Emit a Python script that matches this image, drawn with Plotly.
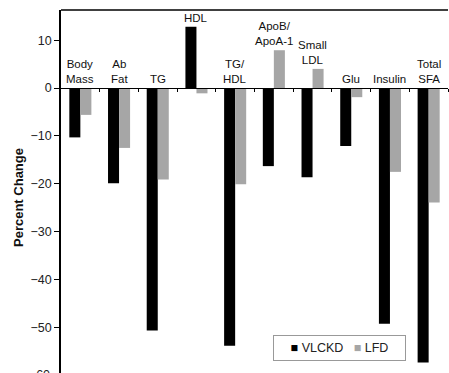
import plotly.graph_objects as go

categories = ["Body<br>Mass", "Ab<br>Fat", "TG", "HDL", "TG/<br>HDL", "ApoB/<br>ApoA-1",
              "Small<br>LDL", "Glu", "Insulin", "Total<br>SFA"]
vlckd = [-10.3, -19.9, -50.6, 12.8, -53.8, -16.3, -18.6, -12.1, -49.2, -57.3]
lfd = [-5.6, -12.5, -19.1, -1.1, -20.1, 7.9, 4.0, -1.9, -17.5, -23.9]
series_names = ["VLCKD", "LFD"]
yticks = [-50, -40, -30, -20, -10, 0, 10]

FONT = "Liberation Sans, Arial, Helvetica, sans-serif"
BLACK = "#000000"
GREY = "#a6a6a6"
YMIN, YMAX = -59.5, 16.3

xs = list(range(len(categories)))
fig = go.Figure()
fig.add_trace(go.Bar(x=xs, y=vlckd, name=series_names[0],
                     marker=dict(color=BLACK, line=dict(width=0)), showlegend=False))
fig.add_trace(go.Bar(x=xs, y=lfd, name=series_names[1],
                     marker=dict(color=GREY, line=dict(width=0)), showlegend=False))

annotations = []
for i, c in enumerate(categories):
    base = max(0, vlckd[i], lfd[i])
    annotations.append(dict(x=i, y=base, xref="x", yref="y", text=c, showarrow=False,
                            xanchor="center", yanchor="bottom", yshift=1,
                            font=dict(family=FONT, size=11.5, color="#111")))
zero_pos = (0 - YMIN) / (YMAX - YMIN)
annotations.append(dict(x=0, y=(-60 - YMIN) / (YMAX - YMIN), xref="paper", yref="paper",
                        text="-60", showarrow=False,
                        xanchor="right", yanchor="middle", xshift=-9,
                        font=dict(family=FONT, size=12.5, color="#222")))
annotations.append(dict(x=(18 - 61) / 387, y=(373 - 198) / 363, xref="paper", yref="paper",
                        text="<b>Percent Change</b>",
                        showarrow=False, textangle=-90, xanchor="center", yanchor="middle",
                        font=dict(family=FONT, size=13, color="#111")))
# key (legend box)
key_text = (f"<span style='color:{BLACK}'>■</span> {series_names[0]}   "
            f"<span style='color:{GREY}'>■</span> {series_names[1]}")
annotations.append(dict(x=(273 - 61) / 387, y=(373 - 335) / 363, xref="paper", yref="paper",
                        text=key_text, showarrow=False, xanchor="left", yanchor="top",
                        width=131, height=24, align="center", valign="middle",
                        bgcolor="white", bordercolor="#999", borderwidth=1, borderpad=0,
                        font=dict(family=FONT, size=12.5, color="#222")))

fig.update_layout(
    width=449, height=373,
    margin=dict(l=61, r=1, t=10, b=0, autoexpand=False),
    paper_bgcolor="white", plot_bgcolor="white",
    barmode="group", bargap=0.43, bargroupgap=0,
    showlegend=False,
    font=dict(family=FONT, size=12, color="#222"),
    xaxis=dict(range=[-0.5, 9.5], tickvals=[i + 0.5 for i in xs], showticklabels=False,
               ticks="outside", ticklen=3, tickcolor=BLACK, showline=True, linecolor=BLACK,
               linewidth=1, showgrid=False, zeroline=False, anchor="free", position=zero_pos,
               automargin=False, fixedrange=True),
    yaxis=dict(range=[YMIN, YMAX], tickvals=yticks, ticks="outside", ticklen=5,
               tickcolor=BLACK, showline=True, linecolor=BLACK, linewidth=1.5,
               showgrid=False, zeroline=False, automargin=False,
               tickfont=dict(family=FONT, size=12.5, color="#222")),
    shapes=[dict(type="line", xref="paper", yref="paper", x0=0, x1=1, y0=1, y1=1,
                 line=dict(color=BLACK, width=1.5))],
    annotations=annotations,
)
fig.write_html("out.html", config={"displayModeBar": False},
               post_script="document.body.style.margin='0';document.body.style.padding='0';")
